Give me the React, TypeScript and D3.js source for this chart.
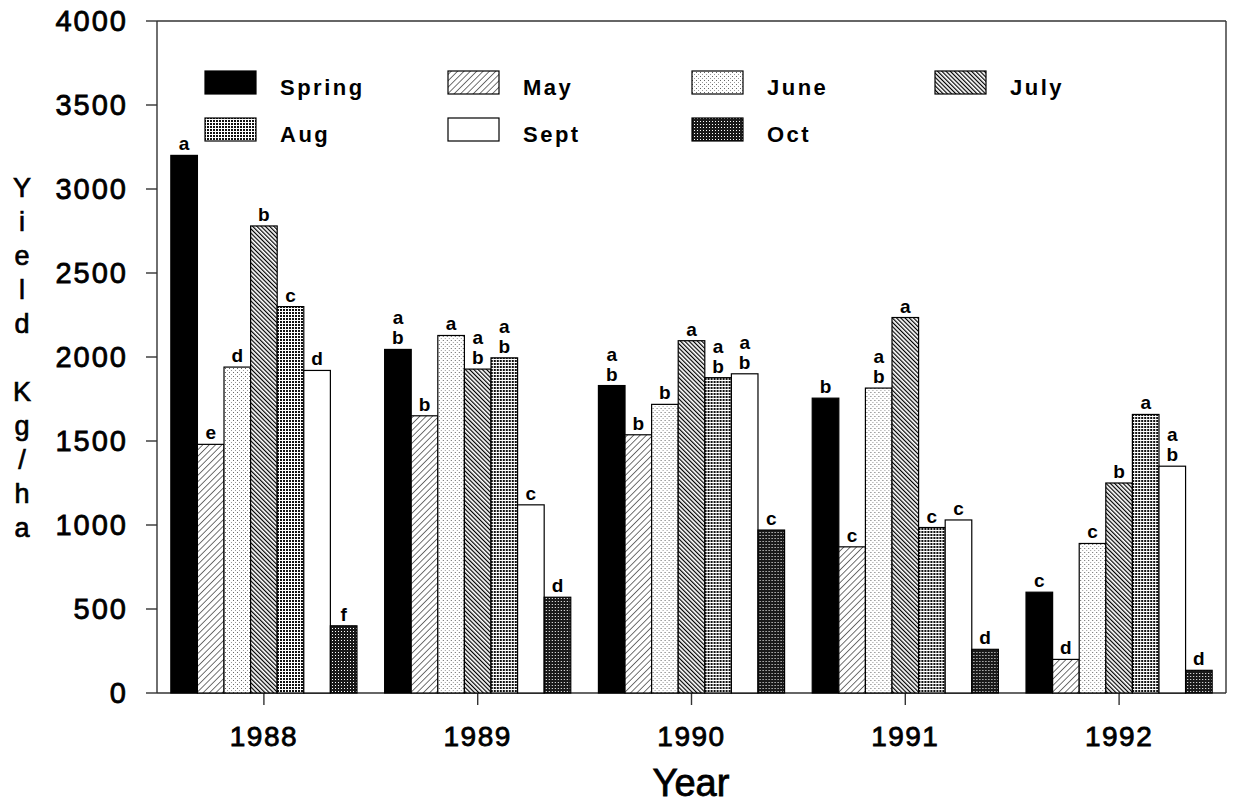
import React from "react";
import * as d3 from "d3";

// data
const years = ["1988", "1989", "1990", "1991", "1992"];
const months = ["Spring", "May", "June", "July", "Aug", "Sept", "Oct"];

const spring = [3200, 2045, 1830, 1755, 600];
const may = [1480, 1650, 1537, 870, 200];
const june = [1940, 2128, 1718, 1815, 890];
const july = [2780, 1928, 2097, 2235, 1250];
const aug = [2300, 1995, 1877, 985, 1658];
const sept = [1920, 1120, 1900, 1030, 1350];
const oct = [400, 570, 970, 260, 135];

// mean separation letters (top line first)
const springLetters = [["a"], ["a", "b"], ["a", "b"], ["b"], ["c"]];
const mayLetters = [["e"], ["b"], ["b"], ["c"], ["d"]];
const juneLetters = [["d"], ["a"], ["b"], ["a", "b"], ["c"]];
const julyLetters = [["b"], ["a", "b"], ["a"], ["a"], ["b"]];
const augLetters = [["c"], ["a", "b"], ["a", "b"], ["c"], ["a"]];
const septLetters = [["d"], ["c"], ["a", "b"], ["c"], ["a", "b"]];
const octLetters = [["f"], ["d"], ["c"], ["d"], ["d"]];

const yTicks = [0, 500, 1000, 1500, 2000, 2500, 3000, 3500, 4000];
const yLabelChars = ["Y", "i", "e", "l", "d", "", "K", "g", "/", "h", "a"];

const values = [spring, may, june, july, aug, sept, oct];
const letters = [springLetters, mayLetters, juneLetters, julyLetters, augLetters, septLetters, octLetters];
const fills = ["#000", "url(#pMay)", "url(#pJune)", "url(#pJuly)", "url(#pAug)", "#fff", "url(#pOct)"];

const font = "'Liberation Sans', Arial, Helvetica, sans-serif";

const left = 157;
const right = 1226;
const top = 21;
const bottom = 693;

export default function App() {
  const x = d3.scaleBand().domain(years).range([left, right]);
  const xInner = d3
    .scaleBand()
    .domain(months)
    .range([0, x.bandwidth()])
    .paddingInner(0)
    .paddingOuter(0.52);
  const y = d3.scaleLinear().domain([0, 4000]).range([bottom, top]);

  // legend layout
  const legendCols = [205, 448, 692, 935];
  const legendRows = [71, 118];

  return (
    <svg
      width={1233}
      height={806}
      style={{ position: "absolute", left: 0, top: 0, background: "#fff" }}
      fontFamily={font}
    >
      <defs>
        <pattern id="pMay" width="4.5" height="4.5" patternUnits="userSpaceOnUse" patternTransform="rotate(45)">
          <rect width="4.5" height="4.5" fill="#fff" />
          <line x1="0" y1="0" x2="0" y2="4.5" stroke="#000" strokeWidth="1.1" />
        </pattern>
        <pattern id="pJuly" width="3" height="3" patternUnits="userSpaceOnUse" patternTransform="rotate(-45)">
          <rect width="3" height="3" fill="#fff" />
          <line x1="0" y1="0" x2="0" y2="3" stroke="#000" strokeWidth="2.4" />
        </pattern>
        <pattern id="pJune" width="4" height="4" patternUnits="userSpaceOnUse">
          <rect width="4" height="4" fill="#fff" />
          <rect x="0" y="0" width="1" height="1" fill="#666" />
          <rect x="2" y="2" width="1" height="1" fill="#999" />
        </pattern>
        <pattern id="pAug" width="3" height="3" patternUnits="userSpaceOnUse">
          <rect width="3" height="3" fill="#fff" />
          <rect x="0" y="0" width="2" height="2" fill="#111" />
        </pattern>
        <pattern id="pOct" width="3" height="3" patternUnits="userSpaceOnUse">
          <rect width="3" height="3" fill="#1a1a1a" />
          <rect x="1" y="1" width="1" height="1" fill="#fff" />
        </pattern>
      </defs>

      {/* frame */}
      <g stroke="#333" strokeWidth={1.4} fill="none">
        <line x1={left} x2={left} y1={top} y2={bottom} />
        <line x1={right} x2={right} y1={top} y2={bottom} />
        <line x1={left} x2={right} y1={top} y2={top} />
        <line x1={left} x2={right} y1={bottom} y2={bottom} />
      </g>

      {/* y axis */}
      {yTicks.map((t) => (
        <g key={t}>
          <line x1={left - 11} x2={left} y1={y(t)} y2={y(t)} stroke="#333" strokeWidth={1.4} />
          <text
            x={128}
            y={y(t)}
            dy="0.36em"
            textAnchor="end"
            fontSize={29}
            letterSpacing={2}
            fill="#000"
            stroke="#000"
            strokeWidth={0.8}
          >
            {t}
          </text>
        </g>
      ))}

      {/* y label, stacked */}
      {yLabelChars.map((c, i) =>
        c ? (
          <text
            key={i}
            x={22}
            y={187 + i * 34}
            dy="0.36em"
            textAnchor="middle"
            fontSize={27}
            fill="#000"
            stroke="#000"
            strokeWidth={0.7}
          >
            {c}
          </text>
        ) : null
      )}

      {/* x axis */}
      {years.map((yr) => {
        const cx = (x(yr) as number) + x.bandwidth() / 2;
        return (
          <g key={yr}>
            <line x1={cx} x2={cx} y1={bottom} y2={bottom + 12} stroke="#333" strokeWidth={1.4} />
            <text
              x={cx}
              y={746}
              textAnchor="middle"
              fontSize={28}
              letterSpacing={1.5}
              fill="#000"
              stroke="#000"
              strokeWidth={0.8}
            >
              {yr}
            </text>
          </g>
        );
      })}
      <text x={691} y={796} textAnchor="middle" fontSize={38} fill="#000" stroke="#000" strokeWidth={0.8}>
        Year
      </text>

      {/* bars */}
      {years.map((yr, yi) => (
        <g key={yr} transform={`translate(${x(yr)},0)`}>
          {months.map((m, mi) => {
            const v = values[mi][yi];
            const bx = xInner(m) as number;
            const bw = xInner.bandwidth();
            const ls = letters[mi][yi];
            return (
              <g key={m}>
                <rect
                  x={bx}
                  y={y(v)}
                  width={bw}
                  height={bottom - y(v)}
                  fill={fills[mi]}
                  stroke="#000"
                  strokeWidth={1.2}
                />
                {ls.map((l, li) => (
                  <text
                    key={li}
                    x={bx + bw / 2}
                    y={y(v) - 5 - (ls.length - 1 - li) * 20}
                    textAnchor="middle"
                    fontSize={19}
                    fontWeight="bold"
                    fill="#000"
                  >
                    {l}
                  </text>
                ))}
              </g>
            );
          })}
        </g>
      ))}

      {/* legend */}
      {months.map((m, i) => {
        const lx = legendCols[i % 4];
        const ly = legendRows[Math.floor(i / 4)];
        return (
          <g key={m}>
            <rect x={lx} y={ly} width={51} height={23} fill={fills[i]} stroke="#000" strokeWidth={1.2} />
            <text x={lx + 75} y={ly + 24} fontSize={22} fontWeight="bold" letterSpacing={2.5} fill="#000">
              {m}
            </text>
          </g>
        );
      })}
    </svg>
  );
}
